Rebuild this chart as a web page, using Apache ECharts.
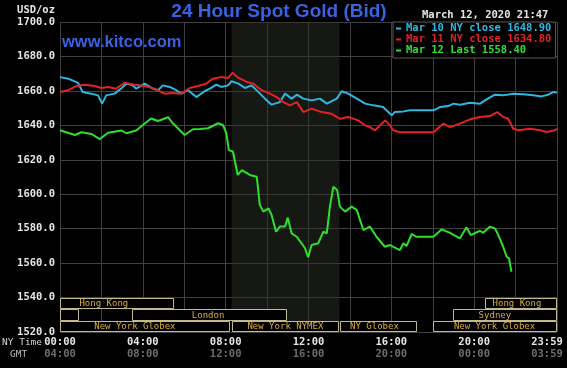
<!DOCTYPE html>
<html><head><meta charset="utf-8">
<script src="https://cdn.jsdelivr.net/npm/echarts@6/dist/echarts.min.js"></script>
<style>html,body{margin:0;padding:0;background:#000;}#c{width:567px;height:368px;}</style>
</head><body><div id="c"></div><script>
// ---- data ----
const seriesNames = ['Mar 10 NY close 1648.90', 'Mar 11 NY close 1634.80', 'Mar 12 Last 1558.40'];
const blueT = [0,24,52,66,90,110,122,134,158,177,192,211,221,245,269,284,298,318,337,351,371,395,419,438,453,467,487,497,517,536,555,575,594,613,637,652,671,686,705,729,753,773,802,816,835,860,884,908,936,961,970,975,995,1014,1082,1101,1125,1140,1159,1188,1217,1236,1260,1284,1313,1342,1371,1395,1414,1429,1440];
const blueV = [1668,1667.1,1664.7,1659.3,1658.4,1657.4,1652.6,1657.4,1658.4,1661.3,1664.2,1663.2,1661.3,1664.2,1661.3,1660.4,1663.2,1662.3,1660.4,1658.4,1660.4,1656.4,1659.8,1661.7,1663.6,1662.3,1663.2,1665.6,1664.2,1661.7,1663.2,1659.3,1655.5,1652,1653.5,1658.4,1655.5,1657.8,1655.5,1654.5,1655.5,1652.6,1655.5,1659.8,1658.4,1655.5,1652.6,1651.6,1650.6,1645.8,1647.7,1648.7,1648.1,1648.7,1648.7,1650.6,1651.2,1652.6,1652,1653.1,1652.6,1655.1,1657.8,1657.4,1658.4,1658,1657.4,1656.8,1657.8,1659.3,1659];
const redT = [0,24,47,72,100,120,139,163,187,216,245,274,303,327,351,376,400,424,443,467,487,500,517,541,560,584,608,628,647,666,686,705,729,758,787,811,835,864,884,898,913,942,956,966,985,1082,1111,1130,1159,1188,1217,1246,1267,1284,1299,1313,1328,1362,1391,1410,1434,1440];
const redV = [1659.3,1660.4,1662.8,1663.6,1662.8,1661.7,1662.3,1661.3,1664.7,1663.6,1662.8,1661.3,1658.4,1658.8,1658.4,1661.7,1662.8,1664.2,1667.1,1668,1667.5,1670.6,1667.5,1665.2,1664.2,1660.4,1658.4,1656.4,1653.5,1651.6,1653.5,1647.7,1649.7,1647.7,1646.7,1643.8,1644.8,1642.9,1640,1639,1637.1,1642.9,1640,1637.1,1636,1636,1641,1639,1641,1643.5,1644.8,1645.4,1647.7,1644.8,1643.8,1638,1637.1,1638,1637.1,1636.1,1637.1,1638];
const greenT = [0,43,62,91,115,139,178,192,221,240,264,284,313,327,361,385,405,429,458,472,482,489,501,515,527,550,570,579,589,604,613,626,637,652,660,671,686,700,710,719,729,748,763,773,782,792,803,811,826,845,860,879,898,917,941,956,985,995,1004,1019,1033,1082,1106,1130,1159,1178,1190,1217,1226,1246,1260,1270,1284,1294,1301,1308];
const greenV = [1637.1,1634.4,1636,1635,1632,1635.7,1637,1635.4,1637,1640.2,1644,1642.5,1644.7,1641.2,1634.4,1637.7,1637.9,1638.3,1641.2,1640.2,1635.4,1625.7,1624.7,1611.2,1614,1611.2,1610.2,1593.7,1589.9,1591.8,1588,1578.2,1581.2,1581.2,1586.4,1577.3,1575.3,1571.5,1568.6,1563.4,1570.5,1571.5,1578.2,1577.3,1592.8,1604.4,1602.5,1592.8,1589.9,1592.8,1590.8,1579.2,1581.2,1575.3,1569.5,1570.5,1567.6,1571.5,1569.9,1576.9,1575.3,1575.3,1579.6,1577.6,1574.4,1580.8,1576.3,1578.8,1577.6,1581.2,1580.2,1576.3,1569.5,1563.7,1562.8,1555];
const tickNY  = ['00:00','04:00','08:00','12:00','16:00','20:00','23:59'];
const tickGMT = ['04:00','08:00','12:00','16:00','20:00','00:00','03:59'];
const sessionLabel   = ['Hong Kong','Hong Kong','','London','Sydney','New York Globex','New York NYMEX','NY Globex','New York Globex'];
const sessionStart   = [0,1230,0,208,1140,0,497,811,1080];
const sessionEnd     = [330,1440,56,657,1440,494,808,1035,1440];
const sessionRow     = [0,0,1,1,1,2,2,2,2];
const sessionLabelAt = [127,1324,28,429,1260,217,653,911,1259];
const nymexShade = [497, 810];

// ---- chart ----
const mono = "'DejaVu Sans Mono', monospace";
const chart = echarts.init(document.getElementById('c'));
const zip = (t, v) => t.map((x, i) => [x, v[i]]);
const colors = ['#2cb8e2', '#e02424', '#2ee02e'];
const lblA = {color:'#e6e6e6', fontFamily:mono, fontWeight:'bold', fontSize:10.5, lineHeight:12.5};
const lblB = {color:'#6e6e6e', fontFamily:mono, fontWeight:'bold', fontSize:10.5, lineHeight:12.5};

chart.setOption({
  backgroundColor:'#000',
  animation:false,
  grid:{left:60, right:10, top:22, bottom:36, containLabel:false, outerBoundsMode:'none'},
  xAxis:{
    type:'value', min:0, max:1440, interval:240,
    axisLine:{show:false}, axisTick:{show:false},
    splitLine:{show:true, lineStyle:{color:'#404040', width:1}},
    minorTick:{show:false, splitNumber:2},
    minorSplitLine:{show:true, lineStyle:{color:'#404040', width:1}},
    axisLabel:{
      margin:4,
      formatter:function(v){
        const i = Math.round(v/240);
        if (i === tickNY.length-1) return '{e|'+tickNY[i]+'}\n{f|'+tickGMT[i]+'}';
        return '{a|'+tickNY[i]+'}\n{b|'+tickGMT[i]+'}';
      },
      rich:{a:lblA, b:lblB,
        e:Object.assign({}, lblA, {padding:[0,20,0,0]}),
        f:Object.assign({}, lblB, {padding:[0,20,0,0]})}
    }
  },
  yAxis:{
    type:'value', min:1520, max:1700, interval:20,
    axisLine:{show:false}, axisTick:{show:false},
    splitLine:{show:true, lineStyle:{color:'#404040', width:1}},
    axisLabel:{margin:5, color:'#e6e6e6', fontFamily:mono, fontWeight:'bold', fontSize:10.5,
      formatter:v => v.toFixed(1)}
  },
  legend:{
    left:393, top:22, orient:'vertical', selectedMode:false,
    backgroundColor:'#000', borderColor:'#5a5a5a', borderWidth:1,
    padding:[1,4,2,3], itemGap:0, itemWidth:5, itemHeight:2, icon:'rect',
    textStyle:{fontFamily:mono, fontWeight:'bold', fontSize:10.5, lineHeight:11},
    data:seriesNames.map((n,i)=>({name:n, textStyle:{color:colors[i]}}))
  },
  series:[
    {name:seriesNames[0], type:'line', data:zip(blueT, blueV), showSymbol:false, symbol:'none',
     lineStyle:{color:colors[0], width:2}, itemStyle:{color:colors[0]}, z:2,
     markArea:{silent:true, itemStyle:{color:'rgba(44,48,38,0.5)'},
       data:[[{xAxis:nymexShade[0]},{xAxis:nymexShade[1]}]]}},
    {name:seriesNames[1], type:'line', data:zip(redT, redV), showSymbol:false, symbol:'none',
     lineStyle:{color:colors[1], width:2}, itemStyle:{color:colors[1]}, z:3},
    {name:seriesNames[2], type:'line', data:zip(greenT, greenV), showSymbol:false, symbol:'none',
     lineStyle:{color:colors[2], width:2}, itemStyle:{color:colors[2]}, z:4},
    {type:'custom', z:5, silent:true,
     data:sessionStart.map((s,i)=>[s, sessionEnd[i], sessionRow[i], sessionLabelAt[i]]),
     renderItem:function(params, api){
       const row = api.value(2);
       const h = 20/3;
       const yTop = 1540 - row*h, yBot = yTop - h;
       const p1 = api.coord([api.value(0), yTop]);
       const p2 = api.coord([api.value(1), yBot]);
       const x0 = Math.round(p1[0])+0.5, y0 = Math.round(p1[1])+0.5;
       const x1 = Math.round(p2[0])-0.5, y1 = Math.round(p2[1])-0.5;
       const t = api.coord([api.value(3), yTop - h/2]);
       return {type:'group', children:[
         {type:'rect', shape:{x:x0, y:y0, width:x1-x0, height:y1-y0},
          style:{fill:'#000', stroke:'#c2b98c', lineWidth:1}},
         {type:'text', x:t[0], y:t[1]+0.5,
          style:{text:sessionLabel[params.dataIndex], fill:'#dcac3c',
            font:"9px 'DejaVu Sans Mono', monospace",
            align:'center', verticalAlign:'middle', textAlign:'center', textVerticalAlign:'middle'}}
       ]};
     }}
  ],
  graphic:[
    {type:'text', x:279, y:12, z:10, style:{text:'24 Hour Spot Gold (Bid)', fill:'#3a62e0',
      font:"bold 19px 'Liberation Sans', Arial, sans-serif", align:'center', verticalAlign:'middle', textAlign:'center', textVerticalAlign:'middle'}},
    {type:'text', x:62, y:42, z:10, style:{text:'www.kitco.com', fill:'#3a62e0',
      font:"bold 16.5px 'Liberation Sans', Arial, sans-serif", align:'left', verticalAlign:'middle', textAlign:'left', textVerticalAlign:'middle'}},
    {type:'text', x:55, y:10, z:10, style:{text:'USD/oz', fill:'#e6e6e6',
      font:"bold 10.5px 'DejaVu Sans Mono', monospace", align:'right', verticalAlign:'middle', textAlign:'right', textVerticalAlign:'middle'}},
    {type:'text', x:422, y:15, z:10, style:{text:'March 12, 2020 21:47', fill:'#e6e6e6',
      font:"bold 10.5px 'DejaVu Sans Mono', monospace", align:'left', verticalAlign:'middle', textAlign:'left', textVerticalAlign:'middle'}},
    {type:'text', x:2, y:343, z:10, style:{text:'NY Time', fill:'#d6d6d6',
      font:"9.5px 'DejaVu Sans Mono', monospace", align:'left', verticalAlign:'middle', textAlign:'left', textVerticalAlign:'middle'}},
    {type:'text', x:10, y:355, z:10, style:{text:'GMT', fill:'#bdbdbd',
      font:"9.5px 'DejaVu Sans Mono', monospace", align:'left', verticalAlign:'middle', textAlign:'left', textVerticalAlign:'middle'}}
  ]
});
</script></body></html>
